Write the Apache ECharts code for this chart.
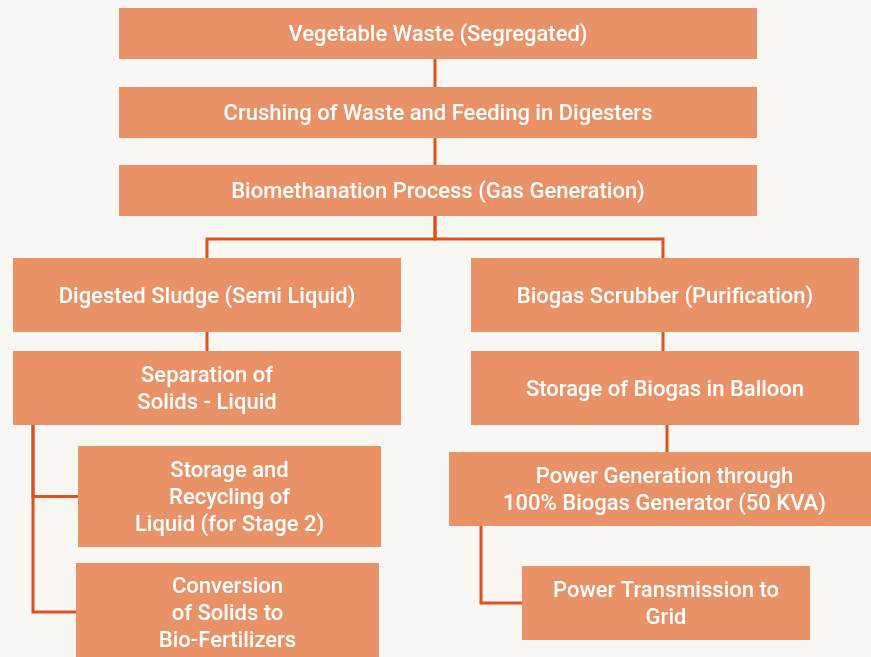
<!DOCTYPE html>
<html>
<head>
<meta charset="utf-8">
<title>Biomethanation flow</title>
<script src="https://cdn.jsdelivr.net/npm/echarts@6/dist/echarts.min.js"></script>
<style>
	html,body{margin:0;padding:0;background:#f9f7f3;}
	#chart{width:871px;height:657px;}
</style>
</head>
<body>
<div id="chart"></div>
<script>
// process steps, in reading order
var steps = [
	"Vegetable Waste (Segregated)",
	"Crushing of Waste and Feeding in Digesters",
	"Biomethanation Process (Gas Generation)",
	"Digested Sludge (Semi Liquid)",
	"Biogas Scrubber (Purification)",
	"Separation of\nSolids - Liquid",
	"Storage of Biogas in Balloon",
	"Storage and\nRecycling of\nLiquid (for Stage 2)",
	"Conversion\nof Solids to\nBio-Fertilizers",
	"Power Generation through\n100% Biogas Generator (50 KVA)",
	"Power Transmission to\nGrid"
];

// parent -> child
var links = [[0,1],[1,2],[2,3],[2,4],[3,5],[4,6],[5,7],[5,8],[6,9],[9,10]];

// layout: box per step [left, top, right, bottom] in px
var boxes = [
	[119,8,757,59],
	[119,87,757,138],
	[119,165,757,216],
	[13,258,401,332],
	[471,258,859,332],
	[13,351,401,425],
	[471,351,859,425],
	[78,446,381,547],
	[76,563,379,661],
	[449,452,880,526],
	[522,566,810,640]
];
// layout: connector per link, [kind, x leaving parent, x entering child, bend y]
var routes = [
	["down",435,435],
	["down",435,435],
	["down",435,207,239],
	["down",435,663,239],
	["down",207,207],
	["down",663,663],
	["side",33],
	["side",33],
	["down",667,667],
	["side",481]
];

var BOX_COLOR = "#e99267", LINE_COLOR = "#e0521d";
var TEXT_SHIFT = 2; // roboto sits a little high

function linePoints(i){
	var p = boxes[links[i][0]], c = boxes[links[i][1]], r = routes[i];
	if(r[0] === "side"){
		var my = (c[1]+c[3])/2;
		return [[r[1],p[3]],[r[1],my],[c[0],my]];
	}
	if(r[1] === r[2]) return [[r[1],p[3]],[r[2],c[1]]];
	return [[r[1],p[3]],[r[1],r[3]],[r[2],r[3]],[r[2],c[1]]];
}

var chart = echarts.init(document.getElementById("chart"));

chart.setOption({
	backgroundColor: "#f9f7f3",
	animation: false,
	grid: {left:0,right:0,top:0,bottom:0},
	xAxis: {type:"value",min:0,max:871,show:false},
	yAxis: {type:"value",min:0,max:657,inverse:true,show:false},
	series: [{
		type: "custom",
		coordinateSystem: "cartesian2d",
		z: 1,
		data: links.map(function(l,i){ return [i]; }),
		renderItem: function(params, api){
			var pts = linePoints(api.value(0)).map(function(p){ return api.coord(p); });
			return {
				type: "polyline",
				shape: {points: pts},
				style: {stroke: LINE_COLOR, lineWidth: 3, fill: null}
			};
		}
	},{
		type: "custom",
		coordinateSystem: "cartesian2d",
		z: 2,
		data: steps.map(function(s,i){ return boxes[i].concat([i]); }),
		renderItem: function(params, api){
			var a = api.coord([api.value(0),api.value(1)]);
			var b = api.coord([api.value(2),api.value(3)]);
			var idx = api.value(4);
			return {
				type: "group",
				children: [{
					type: "rect",
					shape: {x:a[0],y:a[1],width:b[0]-a[0],height:b[1]-a[1]},
					style: {fill: BOX_COLOR}
				},{
					type: "text",
					x: (a[0]+b[0])/2,
					y: (a[1]+b[1])/2 + TEXT_SHIFT,
					style: {
						text: steps[idx],
						fill: "#ffffff",
						font: "500 22px Roboto",
						lineHeight: 27,
						align: "center",
						verticalAlign: "middle"
					}
				}]
			};
		}
	}]
});
</script>
</body>
</html>
